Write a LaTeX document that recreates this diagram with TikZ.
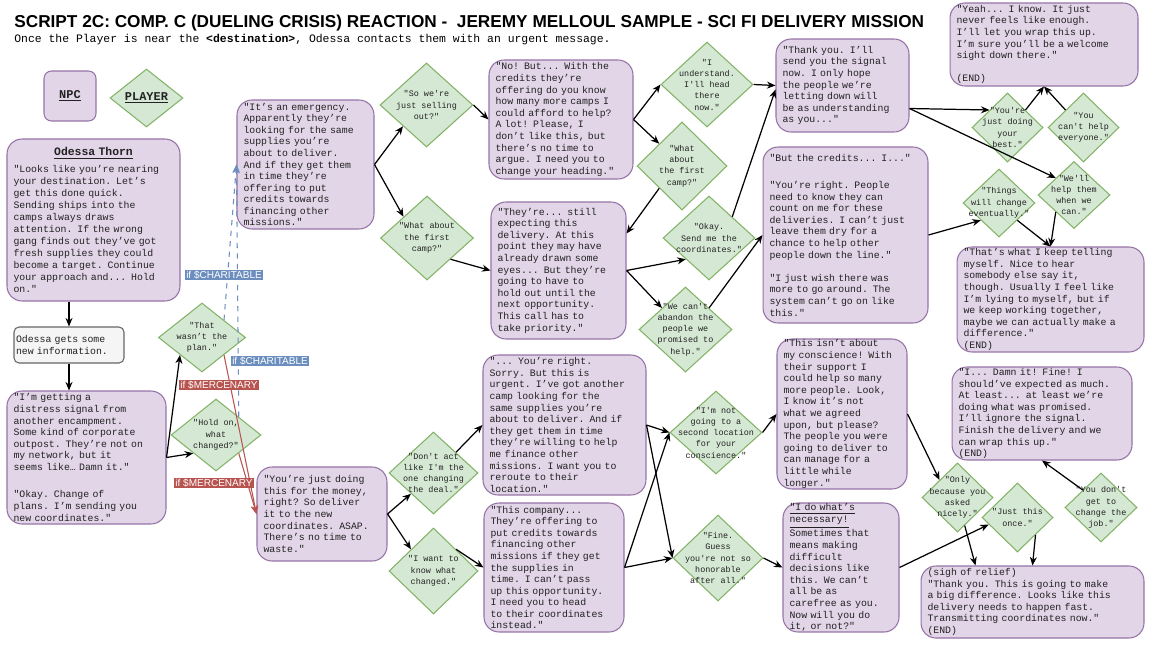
\documentclass[tikz,border=0pt]{standalone}
\usepackage{fontspec}
\usetikzlibrary{arrows.meta,shapes.geometric,calc}
\newfontfamily\monofam{Liberation Mono}
\newfontfamily\sansfam{Liberation Sans}
\definecolor{npcfill}{HTML}{E1D5E7}
\definecolor{npcline}{HTML}{9673A6}
\definecolor{plfill}{HTML}{D5E8D4}
\definecolor{plline}{HTML}{82B366}
\definecolor{infofill}{HTML}{F5F5F5}
\definecolor{infoline}{HTML}{666666}
\definecolor{charit}{HTML}{6C8EBF}
\definecolor{merc}{HTML}{B85450}
\definecolor{ink}{HTML}{222222}
\newcommand{\titlefont}{\sansfam\bfseries\fontsize{9.8}{11}\selectfont}
\newcommand{\subfont}{\monofam\fontsize{6.5}{7.5}\selectfont}
\newcommand{\npcfont}{\monofam\fontsize{5.6}{6.6}\selectfont}
\newcommand{\odessafont}{\monofam\fontsize{5.6}{6.85}\selectfont}
\newcommand{\plfont}{\monofam\fontsize{4.8}{6.4}\selectfont}
\newcommand{\legendfont}{\monofam\bfseries\fontsize{6.8}{8}\selectfont}
\newcommand{\condfont}{\sansfam\fontsize{5.7}{6.5}\selectfont}
\pgfdeclarelayer{back}
\pgfsetlayers{back,main}
\tikzset{
  npc/.style={draw=npcline, fill=npcfill, line width=0.6pt, rounded corners=0.3cm,
    align=left, inner xsep=0.13cm, inner ysep=0pt, font=\npcfont, text=ink},
  info/.style={draw=infoline, fill=infofill, line width=0.6pt, rounded corners=0.1cm,
    align=left, inner xsep=0.04cm, inner ysep=0pt, font=\npcfont, text=ink},
  player/.style={diamond, draw=plline, fill=plfill, line width=0.6pt, inner sep=0pt},
  ptext/.style={align=center, inner sep=0pt, font=\plfont, text=ink},
  link/.style={-{Stealth[length=1.7mm,width=1.4mm]}, line width=0.7pt, black},
  charline/.style={-{Stealth[length=1.7mm,width=1.4mm]}, charit, line width=0.6pt, dashed},
  mercline/.style={-{Stealth[length=1.7mm,width=1.4mm]}, merc, line width=0.6pt},
  cond/.style={inner sep=0.6pt, text=white, font=\condfont},
}

\begin{document}
\begin{tikzpicture}[x=0.02cm, y=-0.02cm]
  \fill[white] (0,0) rectangle (1152,649);
  \useasboundingbox (0,0) rectangle (1152,649);

  \node[anchor=base west, inner sep=0pt, font=\titlefont] (title) at (14,28)
    {SCRIPT 2C: COMP. C (DUELING CRISIS) REACTION -\ \ JEREMY MELLOUL SAMPLE - SCI FI DELIVERY MISSION};
  \node[anchor=base west, inner sep=0pt, font=\subfont] (subtitle) at (14,42)
    {Once the Player is near the \textbf{<destination>}, Odessa contacts them with an urgent message.};

  % legend
  \node[npc, align=center, rounded corners=0.15cm, minimum width=1.04cm, minimum height=1.0cm, font=\legendfont] (legnpc) at (70,96) {\underline{NPC}};
  \node[player, minimum width=1.46cm, minimum height=1.16cm] (legplayer) at (146.5,98) {};
  \node[ptext, font=\legendfont] (legplayer-t) at (legplayer) {\underline{PLAYER}};

  % npc boxes
  \node[npc, text width=3.20cm, minimum height=3.24cm, font=\odessafont] (odessa) at (93.5,220)
    {\makebox[3.20cm]{\fontsize{6.5}{6.85}\selectfont\bfseries\underline{Odessa Thorn}}\\[2.5pt]
     "Looks like you’re nearing\\ your destination. Let’s\\ get this done quick.\\ Sending ships into the\\
     camps always draws\\ attention. If the wrong\\ gang finds out they’ve got\\ fresh supplies they could\\
     become a target. Continue\\ your approach and... Hold\\ on."};
  \node[info, text width=2.12cm, minimum height=0.72cm] (info) at (69,345) {Odessa gets some\\ new information.};
  \node[npc, text width=2.92cm, minimum height=2.66cm] (distress) at (86.5,457.5)
    {"I’m getting a\\ distress signal from\\ another encampment.\\ Some kind of corporate\\ outpost. They’re not on\\
     my network, but it\\ seems like… Damn it."\\[9pt] "Okay. Change of\\ plans. I’m sending you\\ new coordinates."};
  \node[npc, text width=2.48cm, minimum height=2.58cm] (emergency) at (305.5,164.5)
    {"It’s an emergency.\\ Apparently they’re\\ looking for the same\\ supplies you’re\\ about to deliver.\\
     And if they get them\\ in time they’re\\ offering to put\\ credits towards\\ financing other\\ missions."};
  \node[npc, text width=2.62cm, minimum height=2.38cm] (nobut) at (561,119.5)
    {"No! But... With the\\ credits they’re\\ offering do you know\\ how many more camps I\\ could afford to help?\\
     A lot! Please, I\\ don’t like this, but\\ there’s no time to\\ argue. I need you to\\ change your heading."};
  \node[npc, text width=2.44cm, minimum height=2.74cm] (expecting) at (558.5,270.5)
    {"They’re... still\\ expecting this\\ delivery. At this\\ point they may have\\ already drawn some\\
     eyes... But they’re\\ going to have to\\ hold out until the\\ next opportunity.\\ This call has to\\ take priority."};
  \node[npc, text width=2.40cm, minimum height=1.86cm] (thankyou) at (842.5,85.5)
    {"Thank you. I’ll\\ send you the signal\\ now. I only hope\\ the people we’re\\ letting down will\\
     be as understanding\\ as you..."};
  \node[npc, text width=3.04cm, minimum height=3.52cm] (credits) at (845.5,235)
    {"But the credits... I..."\\[9pt] "You’re right. People\\ need to know they can\\ count on me for these\\
     deliveries. I can’t just\\ leave them dry for a\\ chance to help other\\ people down the line."\\[6.6pt]
     "I just wish there was\\ more to go around. The\\ system can’t go on like\\ this."};
  \node[npc, text width=3.50cm, minimum height=1.66cm] (yeah) at (1044,44.5)
    {"Yeah... I know. It just\\ never feels like enough.\\ I’ll let you wrap this up.\\ I’m sure you’ll be a welcome\\
     sight down there."\\[6.6pt] (END)};
  \node[npc, text width=3.48cm, minimum height=2.10cm] (telling) at (1050.5,299.5)
    {"That’s what I keep telling\\ myself. Nice to hear\\ somebody else say it,\\ though. Usually I feel like\\
     I’m lying to myself, but if\\ we keep working together,\\ maybe we can actually make a\\ difference."\\ (END)};
  \node[npc, text width=2.34cm, minimum height=1.88cm] (money) at (322,514)
    {"You’re just doing\\ this for the money,\\ right? So deliver\\ it to the new\\ coordinates. ASAP.\\
     There’s no time to\\ waste."};
  \node[npc, text width=3.00cm, minimum height=2.80cm] (reroute) at (564.5,425)
    {"... You’re right.\\ Sorry. But this is\\ urgent. I’ve got another\\ camp looking for the\\ same supplies you’re\\
     about to deliver. And if\\ they get them in time\\ they’re willing to help\\ me finance other\\
     missions. I want you to\\ reroute to their\\ location."};
  \node[npc, text width=2.54cm, minimum height=2.58cm] (company) at (554,567.5)
    {"This company...\\ They’re offering to\\ put credits towards\\ financing other\\ missions if they get\\
     the supplies in\\ time. I can’t pass\\ up this opportunity.\\ I need you to head\\ to their coordinates\\ instead."};
  \node[npc, text width=2.34cm, minimum height=3.00cm] (conscience) at (842,414)
    {"This isn’t about\\ my conscience! With\\ their support I\\ could help so many\\ more people. Look,\\
     I know it’s not\\ what we agreed\\ upon, but please?\\ The people you were\\ going to deliver to\\
     can manage for a\\ little while\\ longer."};
  \node[npc, text width=3.34cm, minimum height=1.86cm] (damn) at (1042,413.5)
    {"I... Damn it! Fine! I\\ should’ve expected as much.\\ At least... at least we’re\\ doing what was promised.\\
     I’ll ignore the signal.\\ Finish the delivery and we\\ can wrap this up."\\ (END)};
  \node[npc, text width=2.06cm, minimum height=2.58cm] (necessary) at (841,567.5)
    {\underline{"I do what’s}\\ \underline{necessary!}\\ Sometimes that\\ means making\\ difficult\\ decisions like\\
     this. We can’t\\ all be as\\ carefree as you.\\ Now will you do\\ it, or not?"};
  \node[npc, text width=4.20cm, minimum height=1.44cm] (relief) at (1032.5,602)
    {(sigh of relief)\\ "Thank you. This is going to make\\ a big difference. Looks like this\\
     delivery needs to happen fast.\\ Transmitting coordinates now."\\ (END)};

  % player choices
  \node[player, minimum width=1.74cm, minimum height=1.38cm] (plan) at (202,337.5) {};
  \node[ptext] (plan-t) at (plan) {"That\\ wasn’t the\\ plan."};
  \node[player, minimum width=1.80cm, minimum height=1.44cm] (holdon) at (216,435) {};
  \node[ptext] (holdon-t) at (holdon) {"Hold on,\\ what\\ changed?"};
  \node[player, minimum width=1.86cm, minimum height=1.68cm] (sellout) at (426.5,105) {};
  \node[ptext] (sellout-t) at (sellout) {"So we're\\ just selling\\ out?"};
  \node[player, minimum width=1.86cm, minimum height=1.68cm] (firstcamp) at (427,238) {};
  \node[ptext] (firstcamp-t) at (firstcamp) {"What about\\ the first\\ camp?"};
  \node[player, minimum width=1.84cm, minimum height=1.70cm] (understand) at (707,84.5) {};
  \node[ptext] (understand-t) at (understand) {"I\\ understand.\\ I'll head\\ there\\ now."};
  \node[player, minimum width=1.80cm, minimum height=1.76cm] (firstcamp2) at (682,166) {};
  \node[ptext] (firstcamp2-t) at (firstcamp2) {"What\\ about\\ the first\\ camp?"};
  \node[player, minimum width=1.84cm, minimum height=1.68cm] (okay) at (709,238) {};
  \node[ptext] (okay-t) at (okay) {"Okay.\\ Send me the\\ coordinates."};
  \node[player, minimum width=1.86cm, minimum height=1.70cm] (abandon) at (685.5,329.5) {};
  \node[ptext] (abandon-t) at (abandon) {"We can't\\ abandon the\\ people we\\ promised to\\ help."};
  \node[player, minimum width=1.42cm, minimum height=1.38cm] (best) at (1007.5,127.5) {};
  \node[ptext] (best-t) at (best) {"You're\\ just doing\\ your\\ best."};
  \node[player, minimum width=1.42cm, minimum height=1.38cm] (everyone) at (1083.5,127.5) {};
  \node[ptext] (everyone-t) at (everyone) {"You\\ can't help\\ everyone."};
  \node[player, minimum width=1.44cm, minimum height=1.36cm] (change) at (999,203) {};
  \node[ptext] (change-t) at (change) {"Things\\ will change\\ eventually."};
  \node[player, minimum width=1.44cm, minimum height=1.34cm] (helpthem) at (1074,195) {};
  \node[ptext] (helpthem-t) at (helpthem) {"We'll\\ help them\\ when we\\ can."};
  \node[player, minimum width=1.78cm, minimum height=1.64cm] (deal) at (433.5,473) {};
  \node[ptext] (deal-t) at (deal) {"Don't act\\ like I'm the\\ one changing\\ the deal."};
  \node[player, minimum width=1.78cm, minimum height=1.72cm] (knowwhat) at (433.5,571) {};
  \node[ptext] (knowwhat-t) at (knowwhat) {"I want to\\ know what\\ changed."};
  \node[player, minimum width=1.84cm, minimum height=1.66cm] (secondloc) at (716,432.5) {};
  \node[ptext] (secondloc-t) at (secondloc) {"I'm not\\ going to a\\ second location\\ for your\\ conscience."};
  \node[player, minimum width=1.80cm, minimum height=1.72cm] (honorable) at (718,558) {};
  \node[ptext] (honorable-t) at (honorable) {"Fine.\\ Guess\\ you're not so\\ honorable\\ after all."};
  \node[player, minimum width=1.42cm, minimum height=1.38cm] (nicely) at (957.5,497.5) {};
  \node[ptext] (nicely-t) at (nicely) {"Only\\ because you\\ asked\\ nicely."};
  \node[player, minimum width=1.42cm, minimum height=1.38cm] (once) at (1017.5,517.5) {};
  \node[ptext] (once-t) at (once) {"Just this\\ once."};
  \node[player, minimum width=1.44cm, minimum height=1.38cm] (job) at (1101,507.5) {};
  \node[ptext] (job-t) at (job) {"You don't\\ get to\\ change the\\ job."};

  % connectors
  \draw[link] (odessa.south -| info.north) -- (info.north);
  \draw[link] (info.south) -- (info.south |- distress.north);
  \draw[link] (distress.east) -- (plan.south west);
  \draw[link] (distress.east) -- (holdon.south west);
  \draw[charline] (plan.north east) -- (emergency.west);
  \draw[charline] (holdon.north east) -- (emergency.west);
  \draw[mercline] (plan.south east) -- (money.west);
  \draw[mercline] (holdon.south east) -- (money.west);
  \draw[link] (emergency.east) -- (sellout.south west);
  \draw[link] (emergency.east) -- (firstcamp.north west);
  \draw[link] (sellout.east) -- (nobut.west);
  \draw[link] (firstcamp.south east) -- (expecting.west);
  \draw[link] (nobut.east) -- (understand.west);
  \draw[link] (nobut.east) -- (firstcamp2.north west);
  \draw[link] (understand.east) -- (thankyou.west);
  \draw[link] (firstcamp2.south west) -- ($(expecting.east)+(0,-37)$);
  \draw[link] (expecting.east) -- (okay.south west);
  \draw[link] (expecting.east) -- (abandon.north west);
  \draw[link] (okay.north east) -- ($(thankyou.west)+(0,4)$);
  \draw[link] (abandon.north east) -- (credits.west);
  \draw[link] ($(thankyou.east)+(0,23)$) -- (best.north west);
  \draw[link] ($(thankyou.east)+(0,23)$) -- (helpthem.north west);
  \draw[link] (best.north east) -- (yeah.south);
  \draw[link] (everyone.north west) -- (yeah.south);
  \begin{pgfonlayer}{back}
    \draw[link] (credits.east) -- (everyone.south west);
    \draw[link] ($(conscience.east)+(0,-11)$) -- (job.west);
    \draw[link] (necessary.east) -- (job.west);
  \end{pgfonlayer}
  \draw[link] (credits.east) -- (change.south west);
  \draw[link] (change.south east) -- (telling.north);
  \draw[link] (helpthem.south west) -- (telling.north);
  \draw[link] (money.east) -- (deal.south west);
  \draw[link] (money.east) -- (knowwhat.north west);
  \draw[link] (deal.north east) -- (reroute.west);
  \draw[link] (knowwhat.north east) -- (company.west);
  \draw[link] (reroute.east) -- (secondloc.west);
  \draw[link] (reroute.east) -- (honorable.west);
  \draw[link] (company.east) -- (secondloc.west);
  \draw[link] (company.east) -- (honorable.west);
  \draw[link] (secondloc.east) -- (conscience.west);
  \draw[link] (honorable.east) -- (necessary.west);
  \draw[link] (conscience.east) -- (nicely.north west);
  \draw[link] (job.north west) -- (damn.south);
  \draw[link] (necessary.east) -- ($(once.west)!0.2!(once.south)$);
  \draw[link] ($(nicely.south)!0.2!(nicely.east)$) -- ($(relief.north)+(-57,0)$);
  \draw[link] (once.south east) -- (relief.north);

  % conditions
  \node[cond, fill=charit] (charit1) at (224,275) {if \$CHARITABLE};
  \node[cond, fill=charit] (charit2) at (270,361) {if \$CHARITABLE};
  \node[cond, fill=merc] (merc1) at (219,385) {if \$MERCENARY};
  \node[cond, fill=merc] (merc2) at (214,483) {if \$MERCENARY};
\end{tikzpicture}
\end{document}
